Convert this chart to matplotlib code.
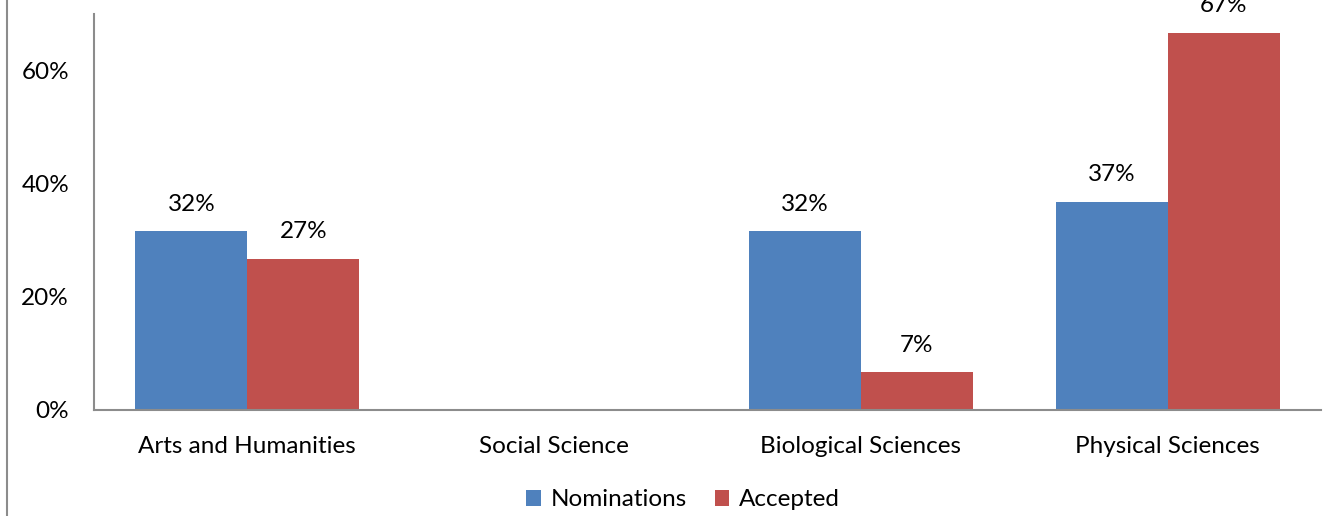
import matplotlib.pyplot as plt
import numpy as np
from matplotlib.lines import Line2D

categories = ['Arts and Humanities', 'Social Science', 'Biological Sciences', 'Physical Sciences']
nominations = [31.6, 0, 31.6, 36.8]
accepted = [26.7, 0, 6.7, 66.7]
nom_labels = ['32%', '', '32%', '37%']
acc_labels = ['27%', '', '7%', '67%']
yticks = [0, 20, 40, 60]

blue = '#4F81BD'
red = '#C0504D'
grey = '#8C8C8C'

plt.rcParams['font.family'] = ['Lato', 'DejaVu Sans']
plt.rcParams['font.size'] = 17.5

fig = plt.figure(figsize=(13.3, 5.16), dpi=100)
ax = fig.add_axes([94 / 1330, 1 - 410 / 516, (1321 - 94) / 1330, (410 - 14) / 516])

x = np.arange(len(categories))
w = 0.365
b1 = ax.bar(x - w / 2, nominations, w, color=blue, label='Nominations')
b2 = ax.bar(x + w / 2, accepted, w, color=red, label='Accepted')

for bars, labels in ((b1, nom_labels), (b2, acc_labels)):
    for bar, lab in zip(bars, labels):
        if not lab:
            continue
        ax.annotate(lab, (bar.get_x() + bar.get_width() / 2, bar.get_height()),
                    xytext=(0, 19.5), textcoords='offset points',
                    ha='center', va='center', annotation_clip=False)

ax.set_xlim(-0.5, len(categories) - 0.5)
ax.set_ylim(0, 70)
ax.set_yticks(yticks)
ax.set_yticklabels([f'{t}%' for t in yticks])
ax.set_xticks(x)
ax.set_xticklabels(categories)
ax.tick_params(axis='y', length=0, pad=18)
ax.tick_params(axis='x', length=0, pad=19)

for s in ('top', 'right'):
    ax.spines[s].set_visible(False)
for s in ('left', 'bottom'):
    ax.spines[s].set_color(grey)
    ax.spines[s].set_linewidth(1.5)

fig.legend(loc='center', bbox_to_anchor=(683 / 1330, 1 - 500 / 516), ncol=2,
           frameon=False, handlelength=0.6, handleheight=0.6, handletextpad=0.4,
           columnspacing=1.15)

# chart frame edge on the left
fig.add_artist(Line2D([6.5 / 1330, 6.5 / 1330], [0, 1], color=grey, lw=1.5,
                      transform=fig.transFigure))

fig.savefig('out.png', dpi=100)
